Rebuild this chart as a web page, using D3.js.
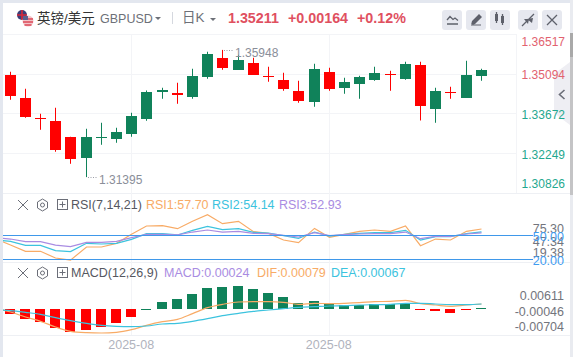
<!DOCTYPE html>
<html>
<head>
<meta charset="utf-8">
<script src="https://cdn.jsdelivr.net/npm/d3@7"></script>
<style>
    body { margin: 0; background: #fff; }
    svg { display: block; }
    text { font-family: "Liberation Sans", "Noto Sans CJK SC", sans-serif; }
</style>
</head>
<body>
<script>
// Candles, one value per visible day
const opens = [1.35058,1.34235,1.33519,1.33411,1.32839,1.32087,1.32803,1.32767,1.32946,1.33483,1.34425,1.34403,1.34271,1.34987,1.35667,1.35237,1.35488,1.35004,1.34879,1.34485,1.34092,1.35166,1.34593,1.34736,1.34879,1.35094,1.34915,1.35416,1.33841,1.34432,1.34235,1.34987];
const highs = [1.35166,1.34557,1.33662,1.33877,1.32839,1.33125,1.33340,1.33161,1.33698,1.34496,1.34593,1.34772,1.35273,1.35882,1.35948,1.35774,1.35667,1.35345,1.35130,1.34843,1.35452,1.35309,1.34951,1.35022,1.35345,1.35201,1.35524,1.35524,1.34593,1.34629,1.35559,1.35273];
const lows = [1.34163,1.33519,1.33089,1.32302,1.31872,1.31395,1.32552,1.32624,1.32839,1.33411,1.34199,1.34020,1.34199,1.34915,1.35237,1.35237,1.35058,1.34808,1.34485,1.34056,1.33913,1.34485,1.34378,1.34199,1.34843,1.34485,1.34879,1.33422,1.33340,1.34199,1.34235,1.34843];
const closes = [1.34306,1.33565,1.33483,1.32373,1.32051,1.32839,1.32839,1.33018,1.33590,1.34450,1.34496,1.34342,1.35022,1.35810,1.35309,1.35595,1.35058,1.34969,1.34557,1.34127,1.35273,1.34557,1.34808,1.34987,1.35130,1.35058,1.35452,1.33948,1.34485,1.34396,1.35058,1.35211];

// RSI and MACD lines start one day earlier, that day sits off the left edge
const rsi1 = [46.2,38.0,30.3,30.3,22.1,19.38,35.6,35.6,40.1,51.2,61.4,61.8,58.1,67.2,75.3,64.3,67.2,54.5,52.4,44.2,40.9,58.5,47.5,51.2,54.9,56.5,54.9,61.4,37.2,45.4,44.2,54.9,57.7];
const rsi2 = [44.2,42.6,37.6,37.6,31.1,29.9,40.1,39.3,40.1,45.0,52.0,52.0,50.4,56.1,61.0,56.9,58.1,53.6,52.8,49.5,46.2,54.0,49.1,51.2,52.4,53.2,53.2,56.1,44.2,48.3,48.3,52.0,54.14];
const rsi3 = [47.1,45.4,42.2,42.2,38.0,36.0,41.3,41.3,42.6,47.1,51.2,51.2,50.4,54.0,56.5,54.0,54.9,52.4,52.0,49.9,47.9,53.2,49.5,50.8,51.6,52.0,52.0,54.0,45.8,48.7,48.7,51.6,52.93];
const dif = [0.00027,-0.00080,-0.00213,-0.00328,-0.00478,-0.00594,-0.00629,-0.00638,-0.00620,-0.00549,-0.00434,-0.00337,-0.00275,-0.00124,0.00035,0.00124,0.00186,0.00195,0.00195,0.00177,0.00124,0.00151,0.00142,0.00151,0.00168,0.00195,0.00204,0.00230,0.00142,0.00106,0.00071,0.00106,0.00133];
const dea = [-0.00018,-0.00044,-0.00089,-0.00142,-0.00230,-0.00310,-0.00381,-0.00434,-0.00461,-0.00470,-0.00452,-0.00399,-0.00381,-0.00328,-0.00257,-0.00177,-0.00115,-0.00062,-0.00027,0.00009,0.00044,0.00062,0.00080,0.00089,0.00106,0.00115,0.00124,0.00151,0.00151,0.00133,0.00115,0.00115,0.00133];
const hist = [-0.00133,-0.00266,-0.00337,-0.00505,-0.00611,-0.00558,-0.00478,-0.00372,-0.00213,0.00010,0.00186,0.00266,0.00399,0.00558,0.00594,0.00611,0.00532,0.00425,0.00319,0.00151,0.00213,0.00133,0.00097,0.00106,0.00124,0.00124,0.00142,-0.00018,-0.00053,-0.00106,-0.00027,0.00024];

const priceTicks = [1.36517, 1.35094, 1.33672, 1.32249, 1.30826];
const rsiTicks = ["75.30", "47.34", "19.38"];
const rsiLevels = [50, 20];
const macdTicks = ["0.00611", "-0.00046", "-0.00704"];
const dateTicks = [8, 21];
const dateLabels = ["2025-08", "2025-08"];

const green = "#10825a", red = "#ff0000";
const orange = "#f8ab66", cyan = "#3cc3de", purple = "#a98ce2", levelBlue = "#3f98ea";
const gridColor = "#f3f4f7";

const svg = d3.select("body").append("svg")
    .attr("width", 573)
    .attr("height", 357);

svg.append("defs").append("clipPath").attr("id", "plot")
    .append("rect").attr("x", 3).attr("y", 0).attr("width", 513).attr("height", 357);

// Scales
const x = d3.scaleBand()
    .domain(d3.range(-1, 32))
    .range([-13.2, 488.4])
    .paddingInner(0.27)
    .paddingOuter(0.135);
const cx = (i) => Math.round(x(i) + x.bandwidth() / 2);

const yPrice = d3.scaleLinear().domain([1.30826, 1.36517]).range([193, 34]);
const yRsi = d3.scaleLinear().domain([19.38, 75.3]).range([260.2, 214.7]);
const yMacd = d3.scaleLinear().domain([-0.00704, 0.00611]).range([335.5, 286]);

// Page frame
svg.append("rect").attr("width", 573).attr("height", 3).attr("fill", "#e3e7ef");
svg.append("rect").attr("y", 3).attr("width", 3).attr("height", 354).attr("fill", "#e3e7ef");
svg.append("rect").attr("x", 570).attr("width", 3).attr("height", 357).attr("fill", "#e9ebf0");
svg.append("rect").attr("x", 570).attr("y", 33).attr("width", 3).attr("height", 24).attr("fill", "#a9a9a9");
svg.append("rect").attr("x", 570).attr("y", 57).attr("width", 3).attr("height", 138).attr("fill", "#c4c4c6");

// Collapse tab on the right, under the price labels
svg.append("path")
    .attr("d", "M570,62L554,74V113L570,125Z")
    .attr("fill", "#eeeef3");
svg.append("path").attr("d", "M564.5,90l-5,4.5l5,4.5").attr("fill", "none").attr("stroke", "#6b6e78").attr("stroke-width", 1.6);

// Grid
const grid = svg.append("g").attr("stroke", gridColor).attr("stroke-width", 1);
grid.selectAll(".h").data(priceTicks.slice(0, 4)).enter().append("line")
    .attr("x1", 3).attr("x2", 516)
    .attr("y1", (d) => Math.round(yPrice(d)) + 0.5)
    .attr("y2", (d) => Math.round(yPrice(d)) + 0.5);
grid.selectAll(".sep").data([193, 262, 335]).enter().append("line")
    .attr("x1", 3).attr("x2", 570)
    .attr("y1", (d) => d + 0.5).attr("y2", (d) => d + 0.5)
    .attr("stroke", "#eef0f4");
grid.selectAll(".v").data(dateTicks).enter().append("line")
    .attr("x1", (d) => cx(d) + 0.5).attr("x2", (d) => cx(d) + 0.5)
    .attr("y1", 34).attr("y2", 335);
grid.append("line").attr("x1", 516.5).attr("x2", 516.5).attr("y1", 34).attr("y2", 193);

// Candles
const plot = svg.append("g").attr("clip-path", "url(#plot)");
const isUp = (i) => closes[i] >= opens[i];
const candles = plot.selectAll(".candle").data(d3.range(opens.length)).enter().append("g")
    .attr("fill", (i) => isUp(i) ? green : red);
candles.append("rect")
    .attr("x", (i) => cx(i))
    .attr("width", 1)
    .attr("y", (i) => yPrice(highs[i]))
    .attr("height", (i) => yPrice(lows[i]) - yPrice(highs[i]));
candles.append("rect")
    .attr("x", (i) => cx(i) - 5)
    .attr("width", 11)
    .attr("y", (i) => Math.round(yPrice(Math.max(opens[i], closes[i]))))
    .attr("height", (i) => Math.max(1, Math.round(Math.abs(yPrice(opens[i]) - yPrice(closes[i])))));

// High and low notes on the price pane
const notes = [14, 5];
svg.selectAll(".leader").data(notes).enter().append("line")
    .attr("x1", (i) => cx(i) + 2).attr("x2", (i) => cx(i) + 12)
    .attr("y1", (i) => Math.round(yPrice(i === 14 ? highs[i] : lows[i])) + 0.5)
    .attr("y2", (i) => Math.round(yPrice(i === 14 ? highs[i] : lows[i])) + 0.5)
    .attr("stroke", "#9a9da6").attr("stroke-dasharray", "1 1.5");
svg.selectAll(".note").data(notes).enter().append("text")
    .attr("x", (i) => cx(i) + 13)
    .attr("y", (i) => yPrice(i === 14 ? highs[i] : lows[i]) + 2.5)
    .attr("dy", "0.35em")
    .attr("font-size", 12)
    .attr("fill", "#8a8e99")
    .text((i) => (i === 14 ? highs[i] : lows[i]).toFixed(5));

// Price labels sit inside the pane at both ends
svg.selectAll(".price").data(priceTicks).enter().append("text")
    .attr("x", 565)
    .attr("y", (d) => Math.max(42, Math.min(184, yPrice(d) + 1.5)))
    .attr("dy", "0.35em")
    .attr("text-anchor", "end")
    .attr("font-size", 12)
    .attr("fill", (d, i) => i < 2 ? "#e2626f" : "#1fa88f")
    .text((d) => d.toFixed(5));

// RSI pane
const rsiLine = d3.line().x((d, i) => cx(i - 1) + 0.5).y((d) => yRsi(d));
[[rsi1, orange], [rsi2, cyan], [rsi3, purple]].forEach(([values, color]) => {
    plot.append("path")
        .attr("d", rsiLine(values))
        .attr("fill", "none")
        .attr("stroke", color)
        .attr("stroke-width", 1.2);
});
svg.selectAll(".level").data(rsiLevels).enter().append("line")
    .attr("x1", 3).attr("x2", 533)
    .attr("y1", (d) => Math.floor(yRsi(d)) + 0.5).attr("y2", (d) => Math.floor(yRsi(d)) + 0.5)
    .attr("stroke", levelBlue).attr("stroke-width", 1);

const rsiLabelY = [228.5, 241.5, 252.5];
svg.selectAll(".rsiTick").data(rsiTicks).enter().append("text")
    .attr("x", 564)
    .attr("y", (d, i) => rsiLabelY[i])
    .attr("dy", "0.35em")
    .attr("text-anchor", "end")
    .attr("font-size", 12.5)
    .attr("fill", "#73757d")
    .text((d) => d);
svg.selectAll(".rsiLevel").data(rsiLevels).enter().append("text")
    .attr("x", 564)
    .attr("y", (d) => yRsi(d) + 1)
    .attr("dy", "0.35em")
    .attr("text-anchor", "end")
    .attr("font-size", 12.5)
    .attr("fill", "#3f9cf0")
    .text((d) => d.toFixed(2));

// MACD pane
plot.selectAll(".bar").data(hist).enter().append("rect")
    .attr("x", (d, i) => cx(i) - 5)
    .attr("width", 10)
    .attr("y", (d) => d > 0 ? Math.min(Math.round(yMacd(d)), Math.round(yMacd(0))) : Math.round(yMacd(0)))
    .attr("height", (d) => Math.max(1, Math.round(Math.abs(yMacd(d) - yMacd(0)))))
    .attr("fill", (d) => d > 0 ? green : red);
const macdLine = d3.line().x((d, i) => cx(i - 1) + 0.5).y((d) => yMacd(d)).curve(d3.curveMonotoneX);
[[dif, orange], [dea, cyan]].forEach(([values, color]) => {
    plot.append("path")
        .attr("d", macdLine(values))
        .attr("fill", "none")
        .attr("stroke", color)
        .attr("stroke-width", 1.2);
});
const macdLabelY = [295.3, 311.3, 326.3];
svg.selectAll(".macdTick").data(macdTicks).enter().append("text")
    .attr("x", 564)
    .attr("y", (d, i) => macdLabelY[i])
    .attr("dy", "0.35em")
    .attr("text-anchor", "end")
    .attr("font-size", 12.5)
    .attr("fill", "#73757d")
    .text((d) => d);

// Date axis
const dateAxis = svg.append("g")
    .attr("transform", "translate(0, 337)")
    .call(d3.axisBottom(x).tickValues(dateTicks).tickSize(0)
        .tickFormat((d) => dateLabels[dateTicks.indexOf(d)]));
dateAxis.select(".domain").remove();
dateAxis.selectAll("text")
    .attr("font-size", 12.5)
    .attr("font-family", '"Liberation Sans", sans-serif')
    .attr("fill", "#b0b3bd");

// Header
function label(txt, xPos, yPos, size, color, weight) {
    svg.append("text")
        .attr("x", xPos).attr("y", yPos)
        .attr("dy", "0.35em")
        .attr("font-size", size)
        .attr("fill", color)
        .attr("font-weight", weight || "normal")
        .text(txt);
}
label("英镑/美元", 37, 18, 13.5, "#333");
label("GBPUSD", 100, 18.5, 12.5, "#6d7078");
label("日K", 182, 17.5, 13.5, "#6d7078");
label("1.35211", 228, 17.5, 14.3, "#e0505f", "bold");
label("+0.00164", 288, 17.5, 14.3, "#e0505f", "bold");
label("+0.12%", 357, 17.5, 14.3, "#e0505f", "bold");

const carets = [[158, 17], [213, 18]];
svg.selectAll(".caret").data(carets).enter().append("path")
    .attr("d", (d) => `M${d[0] - 3},${d[1]}h6l-3,3z`)
    .attr("fill", "#6d7078");
svg.append("line").attr("x1", 172.5).attr("x2", 172.5).attr("y1", 12).attr("y2", 24).attr("stroke", "#d5d8df");

// Flag
svg.append("circle").attr("cx", 22).attr("cy", 15).attr("r", 5).attr("fill", "#3a3f78");
svg.append("path").attr("d", "M17,15h10M22,10v10").attr("stroke", "#d8283a").attr("stroke-width", 1.6);
svg.append("circle").attr("cx", 28).attr("cy", 21).attr("r", 5.5).attr("fill", "#f3c4c8");
svg.append("path").attr("d", "M23,19h10M23,22h10M24.5,25h7").attr("stroke", "#dd4a58").attr("stroke-width", 1.3);
svg.append("rect").attr("x", 23).attr("y", 16).attr("width", 5).attr("height", 4).attr("fill", "#5b5f8f");

// Toolbar buttons
const buttons = [442, 466, 490, 518, 542];
svg.selectAll(".btn").data(buttons).enter().append("rect")
    .attr("x", (d) => d).attr("y", 10)
    .attr("width", 20).attr("height", 20).attr("rx", 3)
    .attr("fill", "#e6e8ef");
const iconColor = "#5e616b";
const lineIcon = (d) => svg.append("path").attr("d", d).attr("fill", "none").attr("stroke", iconColor).attr("stroke-width", 1.3);
const fillIcon = (d) => svg.append("path").attr("d", d).attr("fill", iconColor);
lineIcon("M447,20l3,-3.5l3,3l2,-1.5l3,2.5M447,24h11");
fillIcon("M471,25l1,-4l7,-7l3,3l-7,7zM471,25.5h10v-1h-10z");
fillIcon("M495,14h3v7h-3zM501,16h3v7h-3z");
lineIcon("M496.5,12v11M502.5,14v11");
lineIcon("M522,26l5,-5M534,14l-5,5");
fillIcon("M524,19l5,0l-1,5zM527,19l6,-1l-1,5z");
lineIcon("M547,15l10,10M557,15l-10,10");

// Pane headers
function paneIcons(yc) {
    svg.append("path").attr("d", `M18,${yc - 5}l10,10M28,${yc - 5}l-10,10`).attr("stroke", "#6b6e78").attr("fill", "none");
    svg.append("path")
        .attr("d", `M42.5,${yc - 6}l5,3v6l-5,3l-5,-3v-6z`)
        .attr("stroke", "#6b6e78").attr("fill", "none");
    svg.append("circle").attr("cx", 42.5).attr("cy", yc).attr("r", 2).attr("stroke", "#6b6e78").attr("fill", "none");
    svg.append("rect").attr("x", 57.5).attr("y", yc - 5.5).attr("width", 10).attr("height", 10)
        .attr("stroke", "#6b6e78").attr("fill", "none");
    svg.append("path").attr("d", `M59.5,${yc - 0.5}h6M62.5,${yc - 3.5}v6`).attr("stroke", "#6b6e78").attr("fill", "none");
}
paneIcons(205);
paneIcons(273);
label("RSI(7,14,21)", 71, 205, 12.5, "#55575f");
label("RSI1:57.70", 146, 205, 12.5, orange);
label("RSI2:54.14", 212, 205, 12.5, cyan);
label("RSI3:52.93", 279, 205, 12.5, purple);
label("MACD(12,26,9)", 71, 273, 12.5, "#55575f");
label("MACD:0.00024", 164, 273, 12.5, purple);
label("DIF:0.00079", 257, 273, 12.5, orange);
label("DEA:0.00067", 331, 273, 12.5, cyan);
</script>
</body>
</html>
